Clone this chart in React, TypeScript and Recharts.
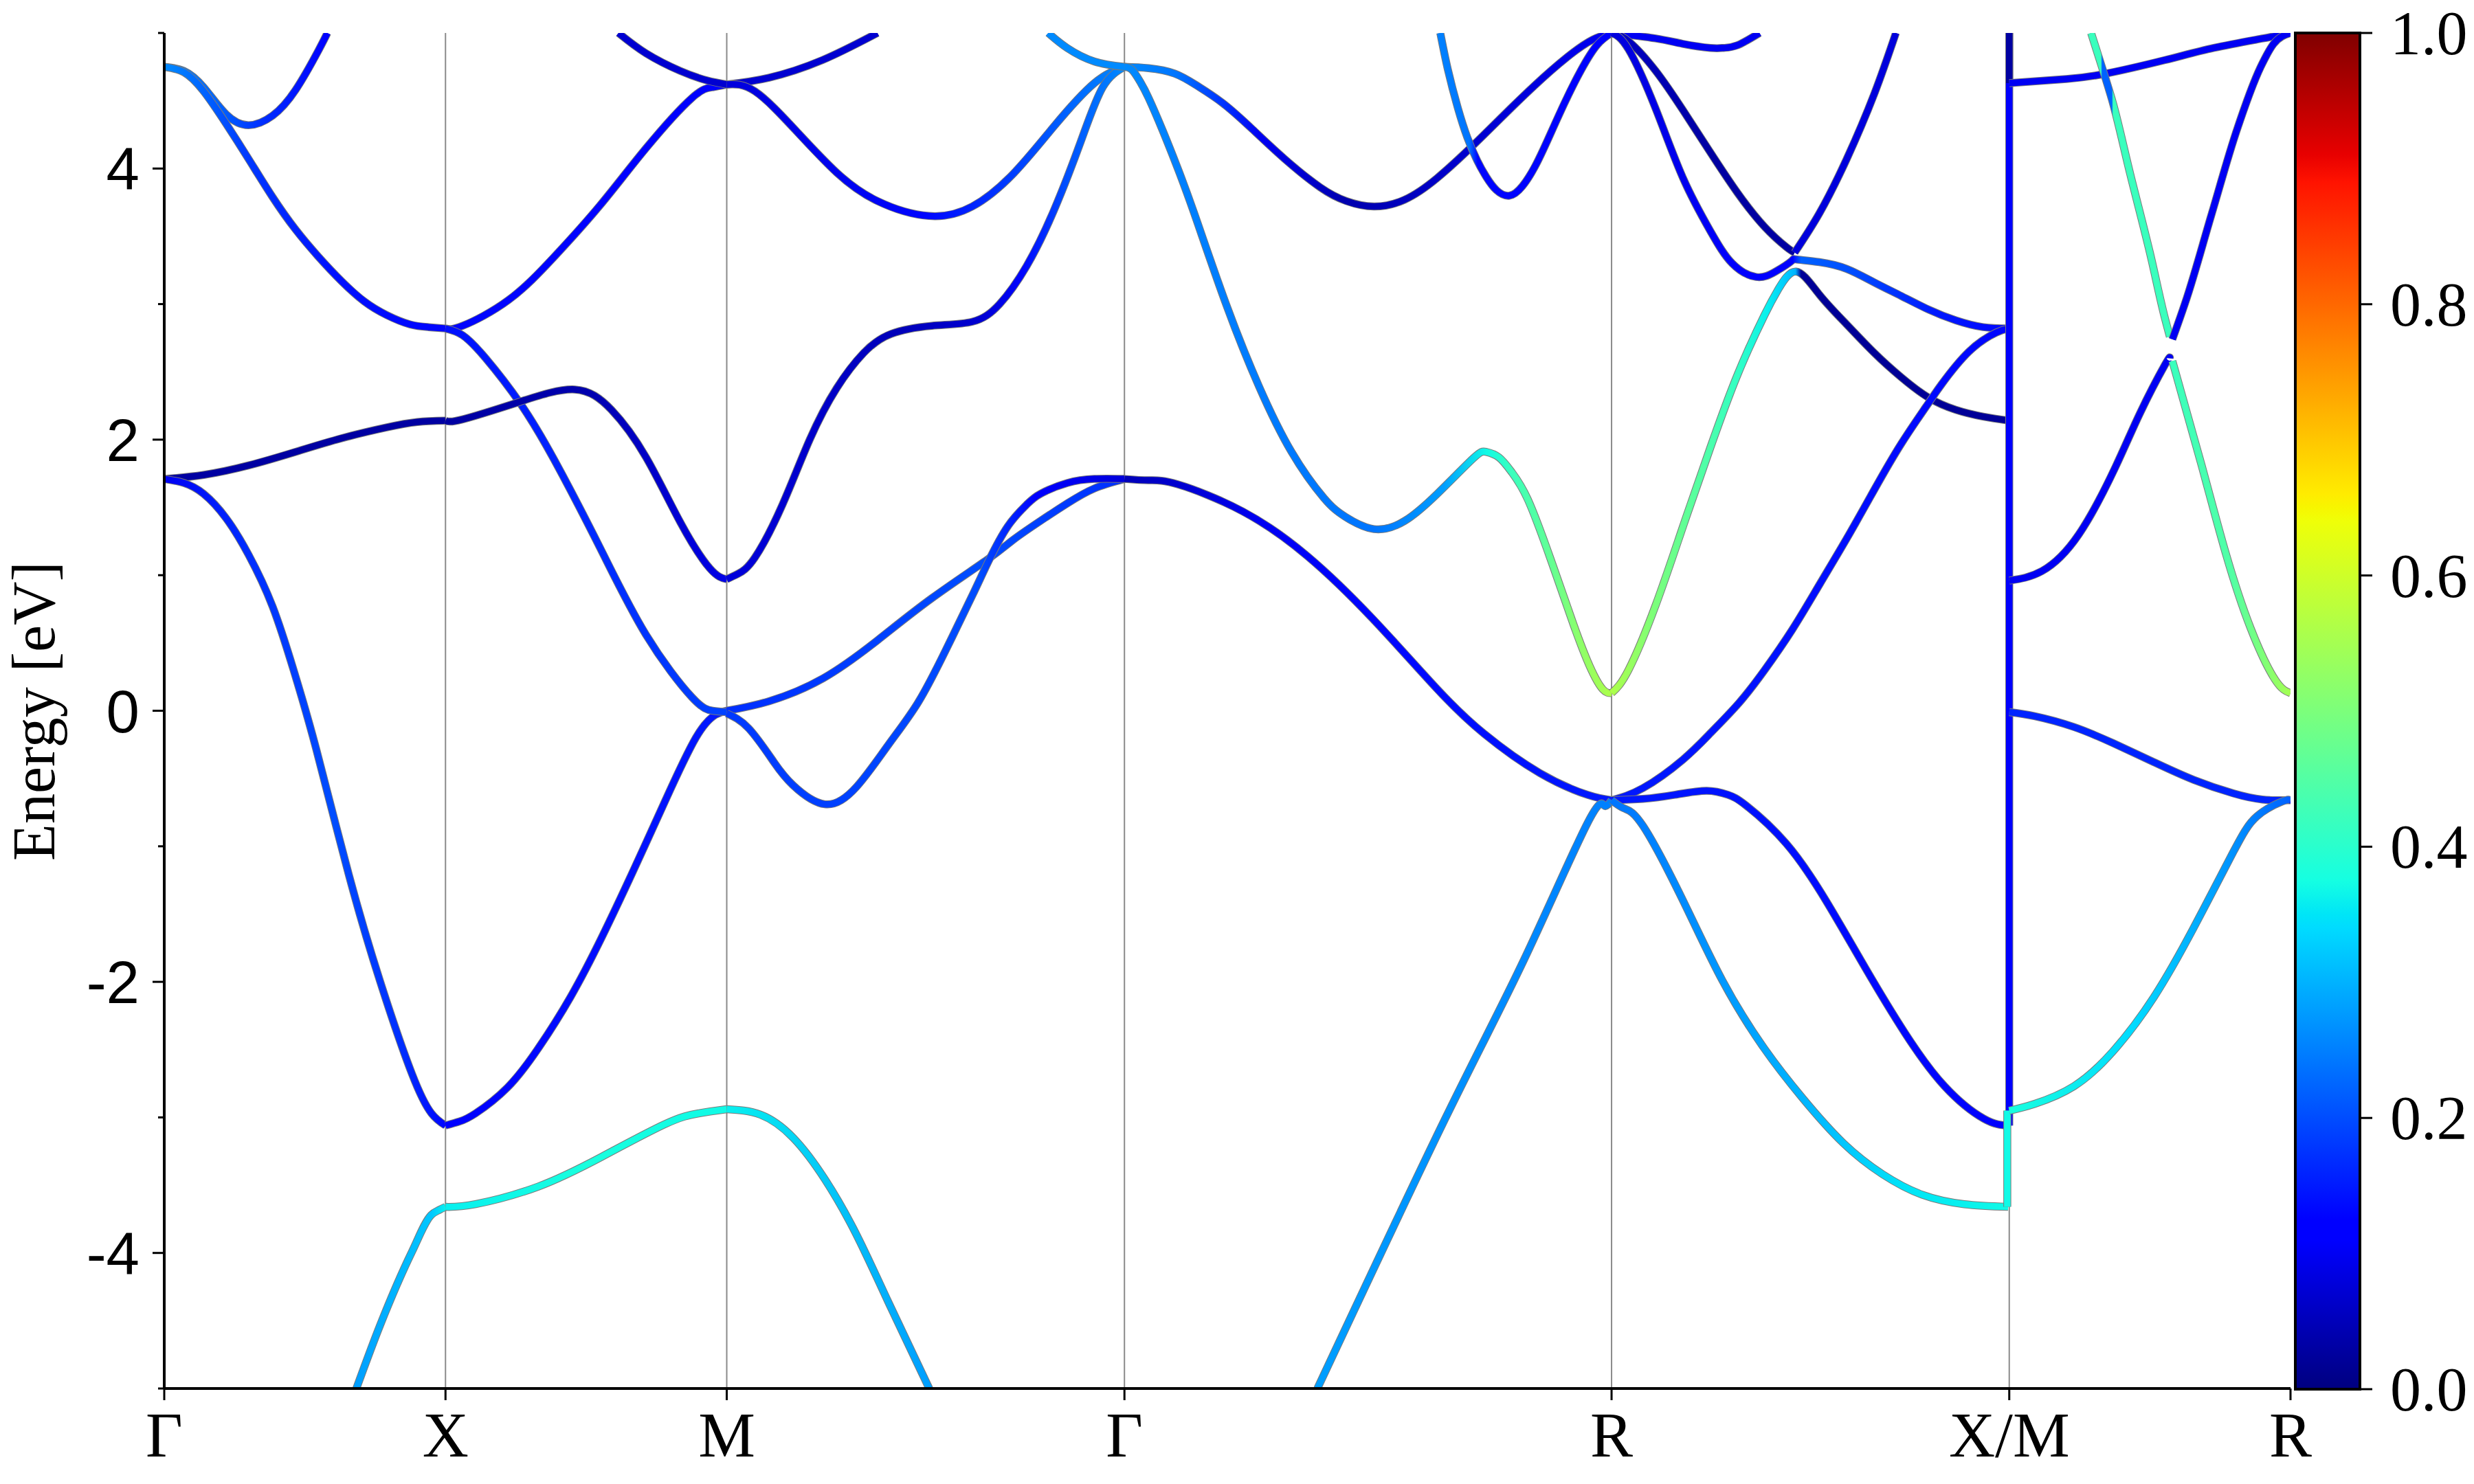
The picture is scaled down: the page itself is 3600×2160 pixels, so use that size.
import React from "react";
import { LineChart, Line, XAxis, YAxis, ReferenceLine, BarChart, Bar } from "recharts";

type Pt = [number, number];

// path positions of the high-symmetry points and their labels
const kPoints = [0, 1, 2, 3.414, 5.146, 6.56, 7.56];
const kLabels = ["Γ", "X", "M", "Γ", "R", "X/M", "R"];
const energyTicks = [-5, -4, -3, -2, -1, 0, 1, 2, 3, 4, 5];
const cbarTicks = [0, 0.2, 0.4, 0.6, 0.8, 1.0];

// matplotlib "jet"
const jetR: Pt[] = [[0, 0], [0.35, 0], [0.66, 1], [0.89, 1], [1, 0.5]];
const jetG: Pt[] = [[0, 0], [0.125, 0], [0.375, 1], [0.64, 1], [0.91, 0], [1, 0]];
const jetB: Pt[] = [[0, 0.5], [0.11, 1], [0.34, 1], [0.65, 0], [1, 0]];
const jetStops = [0, 0.11, 0.125, 0.34, 0.35, 0.375, 0.64, 0.65, 0.66, 0.89, 0.91, 1];

// ---- bands, [k, E] ----  Γ-X
const gxTopA: Pt[] = [[0, 4.75], [0.07, 4.72], [0.14, 4.6], [0.22, 4.4], [0.3, 4.32], [0.385, 4.39], [0.467, 4.58], [0.548, 4.87], [0.58, 5.0]];
const gxTopB: Pt[] = [[0, 4.75], [0.07, 4.71], [0.14, 4.57], [0.22, 4.33], [0.3, 4.07], [0.385, 3.79], [0.467, 3.55], [0.548, 3.35], [0.63, 3.17], [0.711, 3.02], [0.79, 2.92], [0.874, 2.85], [0.94, 2.83], [1, 2.82]];
const gxNavy: Pt[] = [[0, 1.71], [0.14, 1.74], [0.3, 1.81], [0.467, 1.91], [0.63, 2.01], [0.79, 2.09], [0.9, 2.13], [1, 2.14]];
const gxDown: Pt[] = [[0, 1.71], [0.07, 1.68], [0.14, 1.6], [0.22, 1.42], [0.3, 1.15], [0.385, 0.77], [0.46, 0.3], [0.54, -0.28], [0.655, -1.2], [0.768, -2.0], [0.881, -2.68], [0.95, -2.97], [1, -3.06]];
const gxLow: Pt[] = [[0.683, -5], [0.768, -4.53], [0.881, -3.99], [0.949, -3.72], [0.98, -3.68], [1, -3.66]];
// X-M
const xmLow: Pt[] = [[1, -3.66], [1.107, -3.64], [1.33, -3.51], [1.556, -3.29], [1.78, -3.05], [1.9, -2.97], [2, -2.94]];
const xmMid: Pt[] = [[1, -3.06], [1.05, -3.03], [1.107, -2.97], [1.22, -2.78], [1.33, -2.49], [1.445, -2.11], [1.556, -1.67], [1.67, -1.17], [1.78, -0.67], [1.89, -0.2], [1.96, -0.03], [2, 0]];
const xmUp: Pt[] = [[1, 2.82], [1.061, 2.84], [1.224, 3.03], [1.387, 3.35], [1.55, 3.73], [1.713, 4.15], [1.876, 4.52], [1.95, 4.6], [2, 4.62]];
const xmDown: Pt[] = [[1, 2.82], [1.061, 2.77], [1.143, 2.6], [1.265, 2.27], [1.387, 1.85], [1.55, 1.2], [1.713, 0.56], [1.876, 0.1], [1.95, 0.0], [2, -0.01]];
const xmNavy: Pt[] = [[1, 2.14], [1.061, 2.15], [1.265, 2.28], [1.46, 2.37], [1.59, 2.22], [1.713, 1.87], [1.835, 1.39], [1.94, 1.05], [2, 0.97]];
const xmTop: Pt[] = [[1.615, 5.0], [1.713, 4.85], [1.835, 4.72], [1.93, 4.65], [2, 4.62]];
// M-Γ
const mgTop: Pt[] = [[2, 4.62], [2.15, 4.67], [2.34, 4.8], [2.536, 5.0]];
const mgDip: Pt[] = [[2, 4.62], [2.1, 4.57], [2.246, 4.28], [2.391, 3.97], [2.536, 3.76], [2.719, 3.65], [2.873, 3.72], [3.018, 3.96], [3.163, 4.31], [3.307, 4.63], [3.414, 4.75]];
const mgPlateau: Pt[] = [[2, 0.97], [2.04, 1.01], [2.1, 1.13], [2.198, 1.52], [2.295, 2.0], [2.391, 2.38], [2.487, 2.64], [2.584, 2.78], [2.729, 2.84], [2.873, 2.87], [2.97, 3.0], [3.066, 3.28], [3.163, 3.69], [3.259, 4.2], [3.337, 4.6], [3.414, 4.75]];
const mgLin: Pt[] = [[2, 0], [2.15, 0.07], [2.343, 0.24], [2.536, 0.52], [2.729, 0.83], [2.93, 1.12], [3.018, 1.26], [3.115, 1.4], [3.211, 1.53], [3.307, 1.64], [3.414, 1.71]];
const mgSteep: Pt[] = [[2, -0.02], [2.078, -0.13], [2.168, -0.38], [2.236, -0.55], [2.349, -0.69], [2.462, -0.56], [2.575, -0.25], [2.68, 0.06], [2.777, 0.44], [2.873, 0.85], [2.93, 1.1], [2.999, 1.36], [3.066, 1.52], [3.115, 1.6], [3.211, 1.68], [3.307, 1.71], [3.414, 1.71]];
const mgLow: Pt[] = [[2, -2.94], [2.12, -2.98], [2.236, -3.15], [2.35, -3.46], [2.46, -3.86], [2.574, -4.36], [2.72, -5.0]];
const mgLight: Pt[] = [[3.143, 5.0], [3.21, 4.89], [3.307, 4.79], [3.414, 4.75]];
// Γ-R
const grTop: Pt[] = [[3.414, 4.75], [3.5, 4.74], [3.593, 4.7], [3.673, 4.61], [3.765, 4.48], [3.869, 4.29], [3.984, 4.07], [4.111, 3.86], [4.203, 3.76], [4.301, 3.72], [4.41, 3.77], [4.526, 3.93], [4.653, 4.17], [4.756, 4.38], [4.871, 4.61], [4.987, 4.82], [5.078, 4.95], [5.146, 5.0]];
const grSteep: Pt[] = [[3.414, 4.75], [3.44, 4.73], [3.47, 4.64], [3.5, 4.52], [3.55, 4.28], [3.6, 4.02], [3.662, 3.67], [3.777, 2.99], [3.893, 2.39], [4.008, 1.91], [4.123, 1.57], [4.2, 1.43], [4.301, 1.34], [4.41, 1.4], [4.526, 1.6], [4.653, 1.86], [4.699, 1.91], [4.745, 1.87], [4.791, 1.76], [4.848, 1.56], [4.929, 1.12], [5.01, 0.64], [5.068, 0.33], [5.114, 0.16], [5.146, 0.13]];
const grLow: Pt[] = [[3.414, 1.71], [3.5, 1.7], [3.604, 1.67], [3.835, 1.47], [4.065, 1.14], [4.296, 0.68], [4.526, 0.16], [4.693, -0.17], [4.891, -0.46], [5.06, -0.62], [5.146, -0.66]];
const grUpper: Pt[] = [[4.537, 5.0], [4.564, 4.73], [4.599, 4.45], [4.633, 4.23], [4.668, 4.06], [4.7, 3.94], [4.737, 3.84], [4.783, 3.8], [4.829, 3.87], [4.875, 4.02], [4.921, 4.22], [4.978, 4.48], [5.036, 4.72], [5.094, 4.91], [5.146, 5.0]];
const grBottom: Pt[] = [[4.1, -5.0], [4.552, -3.02], [4.834, -1.84], [5.06, -0.83], [5.12, -0.7], [5.146, -0.66]];
// R-X
const rxDip: Pt[] = [[5.146, 5.0], [5.302, 4.96], [5.399, 4.92], [5.497, 4.89], [5.545, 4.89], [5.594, 4.91], [5.672, 5.0]];
const rxAdown: Pt[] = [[5.146, 5.0], [5.206, 4.94], [5.303, 4.72], [5.4, 4.43], [5.497, 4.12], [5.594, 3.82], [5.69, 3.57], [5.768, 3.42], [5.797, 3.38]];
const rxAup: Pt[] = [[5.797, 3.38], [5.885, 3.67], [5.982, 4.07], [6.08, 4.55], [6.157, 5.0]];
const rxB: Pt[] = [[5.146, 5.0], [5.206, 4.88], [5.303, 4.44], [5.4, 3.93], [5.497, 3.54], [5.575, 3.3], [5.66, 3.2], [5.729, 3.24], [5.787, 3.32], [5.802, 3.33], [5.885, 3.31], [5.982, 3.26], [6.08, 3.16], [6.176, 3.06], [6.273, 2.96], [6.37, 2.88], [6.467, 2.83], [6.56, 2.82]];
const rxC: Pt[] = [[5.146, 0.13], [5.206, 0.3], [5.303, 0.78], [5.4, 1.36], [5.497, 1.94], [5.594, 2.48], [5.69, 2.92], [5.739, 3.11], [5.802, 3.24], [5.885, 3.07], [5.982, 2.85], [6.08, 2.64], [6.176, 2.46], [6.273, 2.31], [6.37, 2.22], [6.467, 2.17], [6.56, 2.14]];
const rxD: Pt[] = [[5.146, -0.66], [5.258, -0.57], [5.4, -0.36], [5.5, -0.16], [5.6, 0.06], [5.69, 0.3], [5.789, 0.6], [5.885, 0.93], [5.982, 1.27], [6.08, 1.63], [6.176, 1.97], [6.273, 2.27], [6.32, 2.41], [6.417, 2.65], [6.514, 2.79], [6.56, 2.82]];
const rxE: Pt[] = [[5.146, -0.66], [5.258, -0.65], [5.37, -0.62], [5.484, -0.59], [5.56, -0.62], [5.625, -0.7], [5.767, -0.98], [5.908, -1.4], [6.049, -1.9], [6.19, -2.38], [6.33, -2.77], [6.47, -3.01], [6.556, -3.06]];
const rxF: Pt[] = [[5.146, -0.66], [5.19, -0.72], [5.258, -0.85], [5.4, -1.4], [5.54, -1.99], [5.685, -2.48], [5.826, -2.86], [5.97, -3.19], [6.11, -3.42], [6.25, -3.57], [6.4, -3.64], [6.556, -3.66]];
// jump at X|M
const jumpBlue: Pt[] = [[6.56, -3.06], [6.56, 5.0]];
const jumpNavy: Pt[] = [[6.56, 4.63], [6.56, 5.0]];
const jumpCyan: Pt[] = [[6.553, -3.66], [6.553, -2.95]];
// M-R
const mrTop: Pt[] = [[6.56, 4.63], [6.763, 4.66], [6.903, 4.7], [7.113, 4.8], [7.288, 4.89], [7.462, 4.96], [7.56, 5.0]];
const mrCyanA: Pt[] = [[6.851, 5.0], [6.894, 4.72], [6.929, 4.48], [6.99, 3.96], [7.06, 3.38], [7.113, 2.9], [7.131, 2.76]];
const mrBlueA: Pt[] = [[7.14, 2.74], [7.192, 3.05], [7.279, 3.66], [7.367, 4.27], [7.454, 4.75], [7.5, 4.92], [7.56, 5.0]];
const mrBlueB: Pt[] = [[6.56, 0.96], [6.676, 1.03], [6.807, 1.3], [6.938, 1.8], [7.026, 2.2], [7.113, 2.55], [7.131, 2.6]];
const mrCyanB: Pt[] = [[7.14, 2.58], [7.244, 1.81], [7.33, 1.16], [7.418, 0.61], [7.505, 0.23], [7.56, 0.13]];
const mrZero: Pt[] = [[6.56, -0.01], [6.65, -0.04], [6.79, -0.12], [6.93, -0.24], [7.075, -0.38], [7.216, -0.51], [7.357, -0.61], [7.46, -0.655], [7.56, -0.66]];
const mrCyanC: Pt[] = [[6.56, -2.95], [6.65, -2.9], [6.79, -2.77], [6.93, -2.51], [7.075, -2.11], [7.216, -1.6], [7.357, -1.04], [7.44, -0.78], [7.53, -0.67], [7.56, -0.66]];

// ---- projection weight along each band, [k, w] ----
const gxTopAW: Pt[] = [[0, 0.26], [0.2, 0.22], [0.35, 0.17], [0.58, 0.12]];
const gxTopBW: Pt[] = [[0, 0.26], [0.3, 0.18], [0.6, 0.14], [1, 0.13]];
const gxNavyW: Pt[] = [[0, 0.03]];
const gxDownW: Pt[] = [[0, 0.1], [0.3, 0.17], [0.6, 0.2], [0.85, 0.17], [1, 0.13]];
const gxLowW: Pt[] = [[0.683, 0.28], [0.95, 0.32], [1, 0.36]];
const xmLowW: Pt[] = [[1, 0.36], [1.5, 0.38], [2, 0.37]];
const xmMidW: Pt[] = [[1, 0.12], [2, 0.15]];
const xmUpW: Pt[] = [[1, 0.13], [2, 0.11]];
const xmDownW: Pt[] = [[1, 0.14], [2, 0.19]];
const xmNavyW: Pt[] = [[1, 0.03], [1.5, 0.04], [2, 0.09]];
const xmTopW: Pt[] = [[1.615, 0.07]];
const mgTopW: Pt[] = [[2, 0.07]];
const mgDipW: Pt[] = [[2, 0.08], [2.7, 0.13], [3.1, 0.2], [3.414, 0.26]];
const mgPlateauW: Pt[] = [[2, 0.08], [2.6, 0.05], [2.9, 0.07], [3.05, 0.13], [3.2, 0.2], [3.414, 0.26]];
const mgLinW: Pt[] = [[2, 0.17], [2.9, 0.2], [3.414, 0.17]];
const mgSteepW: Pt[] = [[2, 0.18], [2.9, 0.2], [3.1, 0.12], [3.414, 0.08]];
const mgLowW: Pt[] = [[2, 0.36], [2.72, 0.28]];
const mgLightW: Pt[] = [[3.143, 0.26]];
const grTopW: Pt[] = [[3.414, 0.26], [3.6, 0.24], [3.75, 0.18], [3.9, 0.1], [4.2, 0.04], [4.5, 0.06], [5.146, 0.1]];
const grSteepW: Pt[] = [[3.414, 0.26], [3.6, 0.25], [4.3, 0.24], [4.55, 0.28], [4.7, 0.37], [4.79, 0.42], [4.93, 0.47], [5.03, 0.52], [5.146, 0.56]];
const grLowW: Pt[] = [[3.414, 0.05], [3.9, 0.1], [4.3, 0.13], [5.146, 0.15]];
const grUpperW: Pt[] = [[4.537, 0.25], [4.64, 0.24], [4.67, 0.13], [5.146, 0.12]];
const grBottomW: Pt[] = [[4.1, 0.28], [5.146, 0.25]];
const rxDipW: Pt[] = [[5.146, 0.1]];
const rxAdownW: Pt[] = [[5.146, 0.06], [5.5, 0.03], [5.797, 0.03]];
const rxAupW: Pt[] = [[5.797, 0.08]];
const rxBW: Pt[] = [[5.146, 0.08], [5.6, 0.12], [5.79, 0.12], [5.82, 0.22], [6.0, 0.2], [6.3, 0.15], [6.56, 0.13]];
const rxCW: Pt[] = [[5.146, 0.56], [5.3, 0.5], [5.5, 0.44], [5.6, 0.41], [5.7, 0.36], [5.77, 0.32], [5.8, 0.3], [5.82, 0.02], [6.56, 0.02]];
const rxDW: Pt[] = [[5.146, 0.15], [6.56, 0.13]];
const rxEW: Pt[] = [[5.146, 0.15], [6.556, 0.12]];
const rxFW: Pt[] = [[5.146, 0.24], [5.5, 0.27], [5.9, 0.31], [6.2, 0.35], [6.556, 0.37]];
const jumpBlueW: Pt[] = [[6.56, 0.12]];
const jumpNavyW: Pt[] = [[6.56, 0.03]];
const jumpCyanW: Pt[] = [[6.553, 0.37]];
const mrTopW: Pt[] = [[6.56, 0.1]];
const mrCyanAW: Pt[] = [[6.851, 0.42], [6.886, 0.42], [6.89, 0.22], [6.925, 0.22], [6.929, 0.42], [7.131, 0.42]];
const mrBlueAW: Pt[] = [[7.14, 0.1]];
const mrBlueBW: Pt[] = [[6.56, 0.1]];
const mrCyanBW: Pt[] = [[7.14, 0.42], [7.35, 0.45], [7.56, 0.55]];
const mrZeroW: Pt[] = [[6.56, 0.16]];
const mrCyanCW: Pt[] = [[6.56, 0.38], [7.0, 0.34], [7.3, 0.28], [7.56, 0.22]];

// bands whose end bends sharply: keep x-monotone interpolation
const sharpBands = ["gxLow", "mrCyanA", "mrBlueA"];

const bands = [
  { id: "gxTopA", pts: gxTopA, w: gxTopAW },
  { id: "gxTopB", pts: gxTopB, w: gxTopBW },
  { id: "gxNavy", pts: gxNavy, w: gxNavyW },
  { id: "gxDown", pts: gxDown, w: gxDownW },
  { id: "gxLow", pts: gxLow, w: gxLowW },
  { id: "xmLow", pts: xmLow, w: xmLowW },
  { id: "xmMid", pts: xmMid, w: xmMidW },
  { id: "xmUp", pts: xmUp, w: xmUpW },
  { id: "xmDown", pts: xmDown, w: xmDownW },
  { id: "xmNavy", pts: xmNavy, w: xmNavyW },
  { id: "xmTop", pts: xmTop, w: xmTopW },
  { id: "mgTop", pts: mgTop, w: mgTopW },
  { id: "mgDip", pts: mgDip, w: mgDipW },
  { id: "mgPlateau", pts: mgPlateau, w: mgPlateauW },
  { id: "mgLin", pts: mgLin, w: mgLinW },
  { id: "mgSteep", pts: mgSteep, w: mgSteepW },
  { id: "mgLow", pts: mgLow, w: mgLowW },
  { id: "mgLight", pts: mgLight, w: mgLightW },
  { id: "grTop", pts: grTop, w: grTopW },
  { id: "grSteep", pts: grSteep, w: grSteepW },
  { id: "grLow", pts: grLow, w: grLowW },
  { id: "grUpper", pts: grUpper, w: grUpperW },
  { id: "grBottom", pts: grBottom, w: grBottomW },
  { id: "rxDip", pts: rxDip, w: rxDipW },
  { id: "rxAdown", pts: rxAdown, w: rxAdownW },
  { id: "rxAup", pts: rxAup, w: rxAupW },
  { id: "rxB", pts: rxB, w: rxBW },
  { id: "rxC", pts: rxC, w: rxCW },
  { id: "rxD", pts: rxD, w: rxDW },
  { id: "rxE", pts: rxE, w: rxEW },
  { id: "rxF", pts: rxF, w: rxFW },
  { id: "jumpBlue", pts: jumpBlue, w: jumpBlueW },
  { id: "jumpNavy", pts: jumpNavy, w: jumpNavyW },
  { id: "jumpCyan", pts: jumpCyan, w: jumpCyanW },
  { id: "mrTop", pts: mrTop, w: mrTopW },
  { id: "mrCyanA", pts: mrCyanA, w: mrCyanAW },
  { id: "mrBlueA", pts: mrBlueA, w: mrBlueAW },
  { id: "mrBlueB", pts: mrBlueB, w: mrBlueBW },
  { id: "mrCyanB", pts: mrCyanB, w: mrCyanBW },
  { id: "mrZero", pts: mrZero, w: mrZeroW },
  { id: "mrCyanC", pts: mrCyanC, w: mrCyanCW },
];

const SERIF = "'Liberation Serif', 'Times New Roman', serif";
const SANS = "'Liberation Sans', Arial, sans-serif";

function interp(table: Pt[], v: number) {
  if (v <= table[0][0]) return table[0][1];
  for (let i = 1; i < table.length; i++) {
    const [x1, y1] = table[i];
    const [x0, y0] = table[i - 1];
    if (v <= x1) return y0 + ((y1 - y0) * (v - x0)) / (x1 - x0);
  }
  return table[table.length - 1][1];
}

function jet(v: number) {
  const c = (t: Pt[]) => Math.round(255 * interp(t, v));
  return `rgb(${c(jetR)},${c(jetG)},${c(jetB)})`;
}

function EnergyTick(props: any) {
  const { x, y, payload } = props;
  const v = payload.value;
  const major = v % 2 === 0;
  return (
    <g>
      <line x1={x} x2={x - (major ? 17 : 9)} y1={y} y2={y} stroke="#000" strokeWidth={3} />
      {major && (
        <text x={x - 36} y={y + 31} textAnchor="end" fontFamily={SANS} fontSize={87} fill="#000">
          {`${v}`}
        </text>
      )}
    </g>
  );
}

function KTick(props: any) {
  const { x, y, payload } = props;
  const idx = kPoints.indexOf(payload.value);
  return (
    <g>
      <line x1={x} x2={x} y1={y} y2={y + 17} stroke="#000" strokeWidth={3} />
      <text x={x} y={y + 99} textAnchor="middle" fontFamily={SERIF} fontSize={93} fill="#000">
        {kLabels[idx]}
      </text>
    </g>
  );
}

function CbarTick(props: any) {
  const { x, y, payload } = props;
  return (
    <g>
      <line x1={x} x2={x + 18} y1={y} y2={y} stroke="#000" strokeWidth={3} />
      <text x={x + 44} y={y + 31} textAnchor="start" fontFamily={SERIF} fontSize={90} fill="#000">
        {payload.value.toFixed(1)}
      </text>
    </g>
  );
}

const energyLabel = () => (
  <text transform="translate(79,1035) rotate(-90)" textAnchor="middle" fontFamily={SERIF} fontSize={88} fill="#000">
    Energy [eV]
  </text>
);

export default function App() {
  return (
    <div style={{ position: "absolute", left: 0, top: 0, width: 3600, height: 2160, background: "#fff" }}>
      <svg width={0} height={0} style={{ position: "absolute" }}>
        <defs>
          {bands
            .filter((b) => b.w.length > 1)
            .map((b) => {
              const k0 = b.pts[0][0];
              const k1 = b.pts[b.pts.length - 1][0];
              return (
                <linearGradient key={b.id} id={`g-${b.id}`} x1="0" y1="0" x2="1" y2="0">
                  {b.w.map(([k, w], i) => (
                    <stop key={i} offset={(k - k0) / (k1 - k0)} stopColor={jet(w)} />
                  ))}
                </linearGradient>
              );
            })}
          <linearGradient id="jetBar" x1="0" y1="1" x2="0" y2="0">
            {jetStops.map((s) => (
              <stop key={s} offset={s} stopColor={jet(s)} />
            ))}
          </linearGradient>
        </defs>
      </svg>

      <div style={{ position: "absolute", left: 0, top: 0 }}>
        <LineChart width={3600} height={2160} margin={{ top: 48, right: 267, bottom: 39, left: 89 }}>
          <XAxis
            dataKey="k"
            type="number"
            domain={[0, 7.56]}
            ticks={kPoints}
            interval={0}
            height={100}
            tickSize={0}
            tickMargin={0}
            tick={<KTick />}
            axisLine={{ stroke: "#000", strokeWidth: 4 }}
            allowDataOverflow
          />
          <XAxis xAxisId="top" orientation="top" type="number" domain={[0, 7.56]} height={0} tick={false} tickLine={false} axisLine={{ stroke: "#000", strokeWidth: 4 }} />
          <YAxis
            type="number"
            domain={[-5, 5]}
            ticks={energyTicks}
            interval={0}
            width={150}
            tickSize={0}
            tickMargin={0}
            tick={<EnergyTick />}
            axisLine={{ stroke: "#000", strokeWidth: 4 }}
            label={energyLabel}
            allowDataOverflow
          />
          <YAxis yAxisId="right" orientation="right" type="number" domain={[-5, 5]} width={0} tick={false} tickLine={false} axisLine={{ stroke: "#000", strokeWidth: 4 }} />
          {kPoints.slice(1, -1).map((k) => (
            <ReferenceLine key={`v${k}`} x={k} stroke="#8a8a8a" strokeWidth={2} />
          ))}
          {bands.flatMap((b) => {
            const data = b.pts.map(([k, e]) => ({ k, e }));
            const vertical = b.pts[0][0] === b.pts[b.pts.length - 1][0];
            const curve = vertical ? "linear" : sharpBands.includes(b.id) ? "monotone" : "natural";
            const stroke = b.w.length > 1 ? `url(#g-${b.id})` : jet(b.w[0][1]);
            return [
              <Line
                key={`${b.id}-edge`}
                data={data}
                dataKey="e"
                type={curve}
                stroke="#7a7a7a"
                strokeWidth={11.5}
                dot={false}
                activeDot={false}
                legendType="none"
                isAnimationActive={false}
              />,
              <Line
                key={b.id}
                data={data}
                dataKey="e"
                type={curve}
                stroke={stroke}
                strokeWidth={9.5}
                dot={false}
                activeDot={false}
                legendType="none"
                isAnimationActive={false}
              />,
            ];
          })}
        </LineChart>
      </div>

      <div style={{ position: "absolute", left: 3338, top: 0 }}>
        <BarChart width={262} height={2160} data={[{ name: "weight", v: 1 }]} margin={{ top: 48, right: 0, bottom: 138, left: 2 }} barCategoryGap={0}>
          <XAxis dataKey="name" hide />
          <YAxis
            orientation="right"
            type="number"
            domain={[0, 1]}
            ticks={cbarTicks}
            interval={0}
            width={166}
            tickSize={0}
            tickMargin={0}
            tick={<CbarTick />}
            axisLine={false}
          />
          <Bar dataKey="v" fill="url(#jetBar)" stroke="#000" strokeWidth={4} isAnimationActive={false} />
        </BarChart>
      </div>
    </div>
  );
}
